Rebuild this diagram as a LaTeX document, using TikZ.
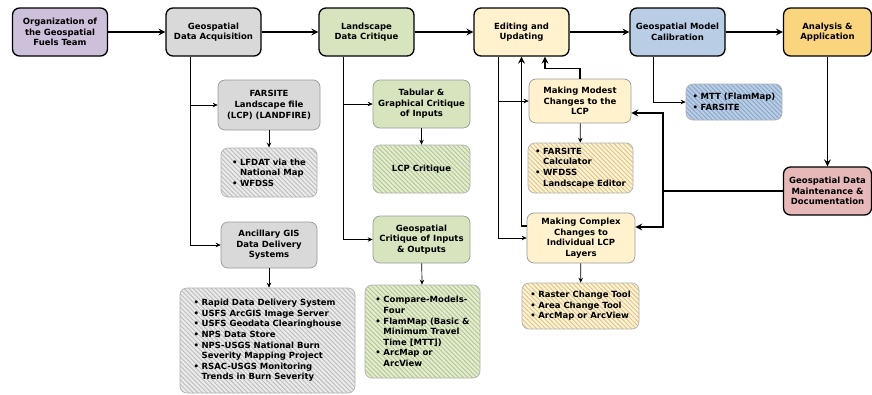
\documentclass[tikz,border=0pt]{standalone}
\usepackage{fontspec}
\setmainfont{DejaVu Sans}
\usetikzlibrary{arrows.meta,positioning,calc,patterns.meta}

\definecolor{teamc}{HTML}{CCC0DA}
\definecolor{acqc}{HTML}{D9D9D9}
\definecolor{critc}{HTML}{D7E4BD}
\definecolor{editc}{HTML}{FFF2CC}
\definecolor{calibc}{HTML}{B9CDE5}
\definecolor{analc}{HTML}{FAD57E}
\definecolor{maintc}{HTML}{E6B9B8}
\definecolor{acqh}{HTML}{BDBDBD}
\definecolor{crith}{HTML}{B3C78C}
\definecolor{edith}{HTML}{D8C597}
\definecolor{calibh}{HTML}{88A5CA}

\newcommand{\bt}{\makebox[8pt][l]{\textbullet}}
\newcommand{\bi}{\hspace*{8pt}}

\begin{document}
\begin{tikzpicture}[x=1pt,y=1pt,
    font=\fontsize{8.5}{10.6}\selectfont\bfseries,
    stage/.style={draw, line width=1.3pt, rounded corners=7pt, minimum width=95pt, minimum height=48pt, align=center, fill=#1},
    task/.style={draw=black!40, line width=0.7pt, rounded corners=7pt, align=center, fill=#1},
    hatch/.style 2 args={draw=black!30, line width=0.7pt, rounded corners=7pt, align=left, preaction={fill=#1},
        pattern={Lines[angle=-45,distance=3.2pt,line width=0.9pt]}, pattern color=#2},
    arr/.style={-{Stealth[length=7pt,width=7pt,inset=2.5pt]}, line width=1.6pt},
    tarr/.style={-{Stealth[length=5pt,width=4.5pt,inset=1.8pt]}, line width=0.7pt}
]
\useasboundingbox (0,0) rectangle (872,-394);

% main stages
\node[stage=teamc] (team) at (60,-32) {Organization of\\the Geospatial\\Fuels Team};
\node[stage=acqc] (acq) at (213.5,-32) {Geospatial\\Data Acquisition};
\node[stage=critc] (crit) at (366.5,-32) {Landscape\\Data Critique};
\node[stage=editc] (edit) at (521.5,-32) {Editing and\\Updating};
\node[stage=calibc] (calib) at (677.5,-32) {Geospatial Model\\Calibration};
\node[stage=analc, minimum width=88pt] (anal) at (827.5,-32) {Analysis \&\\Application};
\node[stage=maintc, minimum width=88pt] (maint) at (827.5,-191) {Geospatial Data\\Maintenance \&\\Documentation};

% data acquisition
\node[task=acqc, minimum width=102pt, minimum height=50pt] (lcpfile) at (269,-105) {FARSITE\\Landscape file\\(LCP) (LANDFIRE)};
\node[hatch={acqc!55}{acqh}, minimum width=96pt, minimum height=49pt] (lfdat) at (269,-172.5) {\bt LFDAT via the\\\bi National Map\\\bt WFDSS};
\node[task=acqc, minimum width=96pt, minimum height=46pt] (ancil) at (269,-245) {Ancillary GIS\\Data Delivery\\Systems};
\node[hatch={acqc!55}{acqh}, minimum width=175pt, minimum height=105pt] (acqlist) at (267.5,-340.5)
    {\bt Rapid Data Delivery System\\\bt USFS ArcGIS Image Server\\\bt USFS Geodata Clearinghouse\\\bt NPS Data Store\\
     \bt NPS-USGS National Burn\\\bi Severity Mapping Project\\\bt RSAC-USGS Monitoring\\\bi Trends in Burn Severity};

% critique
\node[task=critc, minimum width=97pt, minimum height=48pt] (tabcrit) at (421.5,-104) {Tabular \&\\Graphical Critique\\of Inputs};
\node[hatch={critc!70}{crith}, minimum width=97pt, minimum height=48pt, align=center] (lcpcrit) at (421.5,-169) {LCP Critique};
\node[task=critc, minimum width=97pt, minimum height=47pt] (geocrit) at (421.5,-239.5) {Geospatial\\Critique of Inputs\\\& Outputs};
\node[hatch={critc!70}{crith}, minimum width=115pt, minimum height=93pt] (critlist) at (422.5,-331.5)
    {\bt Compare-Models-\\\bi Four\\\bt FlamMap (Basic \&\\\bi Minimum Travel\\\bi Time [MTT])\\\bt ArcMap or\\\bi ArcView};

% editing
\node[task=editc, minimum width=102pt, minimum height=44pt] (modest) at (580,-101) {Making Modest\\Changes to the\\LCP};
\node[hatch={editc}{edith}, minimum width=105pt, minimum height=50pt] (modlist) at (580.5,-168) {\bt FARSITE\\\bi Calculator\\\bt WFDSS\\\bi Landscape Editor};
\node[task=editc, minimum width=108pt, minimum height=50pt] (complex) at (581,-238) {Making Complex\\Changes to\\Individual LCP\\Layers};
\node[hatch={editc}{edith}, minimum width=117pt, minimum height=46pt] (cmplist) at (580.5,-306) {\bt Raster Change Tool\\\bt Area Change Tool\\\bt ArcMap or ArcView};

% calibration
\node[hatch={calibc}{calibh}, minimum width=96pt, minimum height=36pt] (caliblist) at (734,-102) {\bt MTT (FlamMap)\\\bt FARSITE};

% main flow
\draw[arr] (team) -- (acq);
\draw[arr] (acq) -- (crit);
\draw[arr] (crit) -- (edit);
\draw[arr] (edit) -- (calib);
\draw[arr] (calib) -- (anal);
\draw[arr] (anal) -- (maint);

% branches
\draw[tarr] ([xshift=-23.5]acq.south) |- (lcpfile);
\draw[tarr] ([xshift=-23.5]acq.south) |- (ancil);
\draw[tarr] (lcpfile) -- (lfdat);
\draw[tarr] (ancil.south) -- (ancil.south |- acqlist.north);
\draw[tarr] ([xshift=-23.5]crit.south) |- (tabcrit);
\draw[tarr] ([xshift=-23.5]crit.south) |- (geocrit);
\draw[tarr] (tabcrit) -- (lcpcrit);
\draw[tarr] (geocrit) -- (critlist);
\draw[tarr] ([xshift=-23.5]edit.south) |- (modest);
\draw[tarr] ([xshift=-23.5]edit.south) |- (complex);
\draw[tarr] (modest) -- (modlist);
\draw[tarr] (complex) -- (cmplist);
\draw[tarr] ([xshift=-24.5]calib.south) |- (caliblist);

% feedback
\draw[arr] (modest.north) -- ++(0,10) -| ([xshift=23.5]edit.south);
\draw[arr] ([yshift=12]complex.west) -| (edit.south);
\coordinate (jn) at (663,-191);
\draw[arr] (maint.west) -- (jn) |- ([yshift=-12]modest.east);
\draw[arr] (jn) |- ([yshift=11]complex.east);
\end{tikzpicture}
\end{document}
